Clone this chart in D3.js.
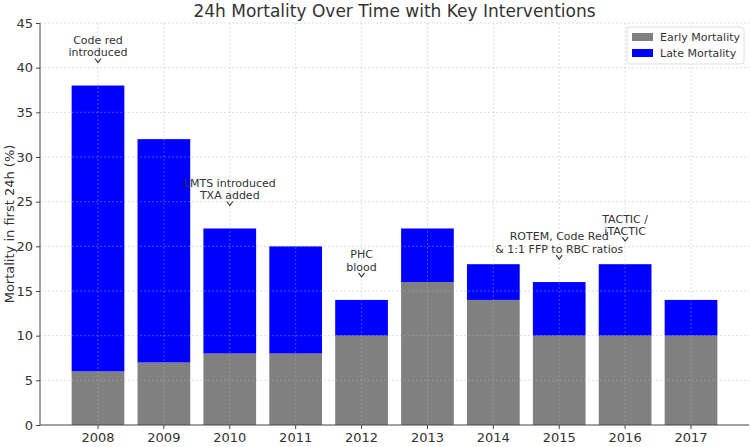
<!DOCTYPE html>
<html>
<head>
<meta charset="utf-8">
<script src="https://cdn.jsdelivr.net/npm/d3@7"></script>
<style>
  body { margin: 0; background: #fff; }
  text { font-family: "DejaVu Sans", sans-serif; fill: #333; }
</style>
</head>
<body>
<svg id="chart" width="750" height="447"></svg>
<script>
// data
const years = ["2008", "2009", "2010", "2011", "2012", "2013", "2014", "2015", "2016", "2017"];
const earlyMortality = [6, 7, 8, 8, 10, 16, 14, 10, 10, 10];
const lateMortality = [32, 25, 14, 12, 4, 6, 4, 6, 8, 4];
const yTicks = [0, 5, 10, 15, 20, 25, 30, 35, 40, 45];

// annotations (year + text lines)
const noteYears = ["2008", "2010", "2012", "2015", "2016"];
const noteTexts = [
  ["Code red", "introduced"],
  ["LMTS introduced", "TXA added"],
  ["PHC", "blood"],
  ["ROTEM, Code Red", "& 1:1 FFP to RBC ratios"],
  ["TACTIC /", "iTACTIC"]
];

const w = 750, h = 447;
const plotLeft = 40, plotRight = 749, plotTop = 23, plotBottom = 425;

const svg = d3.select("#chart");

const xScale = d3.scaleBand()
  .domain(years)
  .range([plotLeft, plotRight])
  .paddingInner(0.2)
  .paddingOuter(0.48);

const yScale = d3.scaleLinear()
  .domain([0, 45])
  .range([plotBottom, plotTop]);

// stacked bars
const rows = years.map(function (y, i) {
  return { year: y, early: earlyMortality[i], late: lateMortality[i] };
});
const stack = d3.stack().keys(["early", "late"]);
const series = stack(rows);
const colors = { early: "#808080", late: "#0000ff" };

svg.append("g").selectAll("g")
  .data(series)
  .join("g")
  .attr("fill", function (s) { return colors[s.key]; })
  .selectAll("rect")
  .data(function (s) { return s; })
  .join("rect")
  .attr("x", function (d) { return xScale(d.data.year); })
  .attr("width", xScale.bandwidth())
  .attr("y", function (d) { return yScale(d[1]); })
  .attr("height", function (d) { return yScale(d[0]) - yScale(d[1]); });

// grid on top of bars
const grid = svg.append("g")
  .attr("stroke", "#b0b0b0")
  .attr("stroke-opacity", 0.55)
  .attr("stroke-dasharray", "2,2")
  .attr("stroke-width", 0.8);

grid.selectAll(".gy")
  .data(yTicks.slice(1))
  .join("line")
  .attr("x1", plotLeft).attr("x2", plotRight)
  .attr("y1", function (d) { return yScale(d); })
  .attr("y2", function (d) { return yScale(d); });

grid.selectAll(".gx")
  .data(years)
  .join("line")
  .attr("x1", function (d) { return xScale(d) + xScale.bandwidth() / 2; })
  .attr("x2", function (d) { return xScale(d) + xScale.bandwidth() / 2; })
  .attr("y1", plotTop).attr("y2", plotBottom);

// axes
const xAxis = d3.axisBottom(xScale).tickSize(4).tickPadding(4);
const yAxis = d3.axisLeft(yScale).tickValues(yTicks).tickSize(4).tickPadding(3);

const gx = svg.append("g")
  .attr("transform", "translate(0," + plotBottom + ")")
  .call(xAxis);
gx.select(".domain").attr("d", "M" + plotLeft + ",0H" + plotRight).attr("stroke", "#444");
gx.selectAll(".tick line").attr("stroke", "#444");
gx.selectAll(".tick text").style("font-size", "13px").attr("fill", "#333");

const gy = svg.append("g")
  .attr("transform", "translate(" + plotLeft + ",0)")
  .call(yAxis);
gy.select(".domain").attr("d", "M0," + plotTop + "V" + plotBottom).attr("stroke", "#444");
gy.selectAll(".tick line").attr("stroke", "#444");
gy.selectAll(".tick text").style("font-size", "13px").attr("fill", "#333");

// title and axis label
svg.append("text")
  .attr("x", (plotLeft + plotRight) / 2)
  .attr("y", 17)
  .attr("text-anchor", "middle")
  .style("font-size", "17px")
  .text("24h Mortality Over Time with Key Interventions");

svg.append("text")
  .attr("transform", "translate(14," + ((plotTop + plotBottom) / 2) + ") rotate(-90)")
  .attr("text-anchor", "middle")
  .style("font-size", "13px")
  .text("Mortality in first 24h (%)");

// annotations
noteYears.forEach(function (yr, i) {
  const idx = years.indexOf(yr);
  const total = earlyMortality[idx] + lateMortality[idx];
  const cx = xScale(yr) + xScale.bandwidth() / 2;
  const yTop = yScale(total);
  const tip = yTop - 23;
  svg.append("path")
    .attr("d", "M" + (cx - 3) + "," + (tip - 4) + "L" + cx + "," + tip + "L" + (cx + 3) + "," + (tip - 4))
    .attr("fill", "none")
    .attr("stroke", "#333")
    .attr("stroke-width", 1.1);
  const lines = noteTexts[i];
  lines.forEach(function (t, j) {
    svg.append("text")
      .attr("x", cx)
      .attr("y", yTop - 33 - (lines.length - 1 - j) * 12.5)
      .attr("dy", "0.35em")
      .attr("text-anchor", "middle")
      .style("font-size", "11px")
      .text(t);
  });
});

// legend
const legend = svg.append("g").attr("transform", "translate(627,27)");
legend.append("rect")
  .attr("width", 117).attr("height", 37)
  .attr("rx", 3)
  .attr("fill", "#fff")
  .attr("fill-opacity", 0.8)
  .attr("stroke", "#ddd");
const legendItems = [["Early Mortality", colors.early], ["Late Mortality", colors.late]];
legendItems.forEach(function (d, i) {
  legend.append("rect")
    .attr("x", 5).attr("y", 6 + i * 16)
    .attr("width", 21).attr("height", 8)
    .attr("fill", d[1]);
  legend.append("text")
    .attr("x", 33).attr("y", 10 + i * 16)
    .attr("dy", "0.35em")
    .style("font-size", "11px")
    .text(d[0]);
});
</script>
</body>
</html>
